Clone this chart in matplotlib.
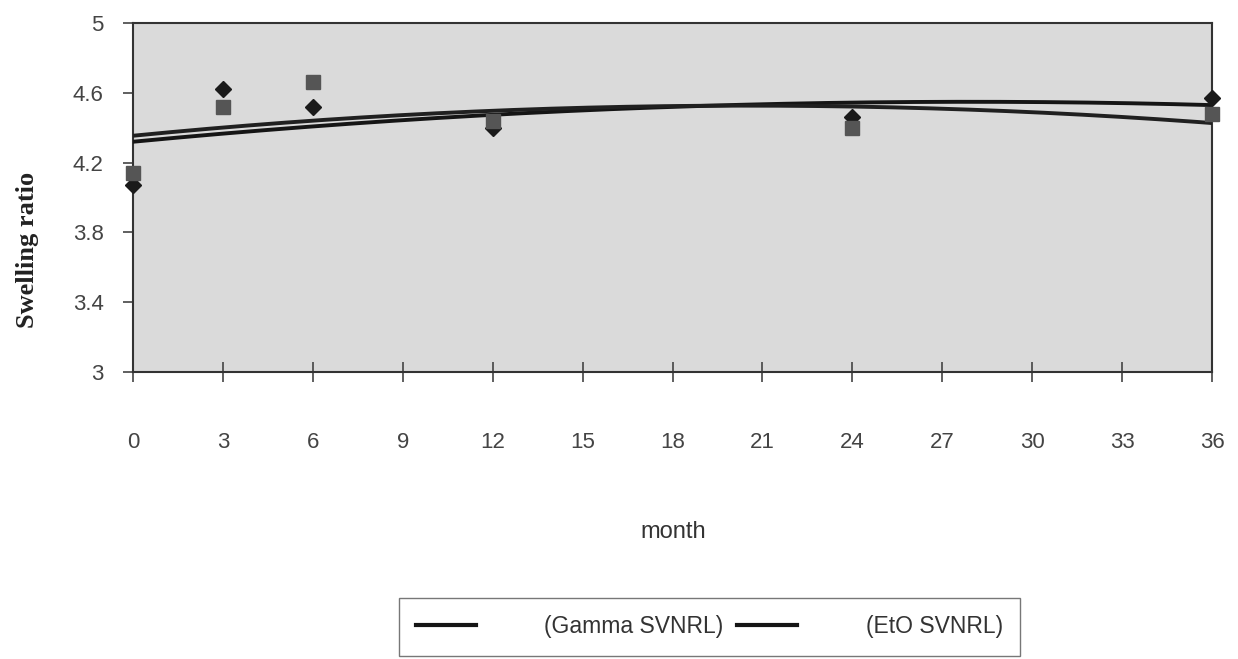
import numpy as np
import matplotlib
matplotlib.use("Agg")
import matplotlib.pyplot as plt
from matplotlib.lines import Line2D

# Data
months = [0, 3, 6, 12, 24, 36]
gamma_svnrl = [4.07, 4.62, 4.52, 4.40, 4.46, 4.57]   # diamonds
eto_svnrl = [4.14, 4.52, 4.66, 4.44, 4.40, 4.48]     # squares
x_ticks = [0, 3, 6, 9, 12, 15, 18, 21, 24, 27, 30, 33, 36]
y_ticks = [3, 3.4, 3.8, 4.2, 4.6, 5]
series_labels = ["(Gamma SVNRL)", "(EtO SVNRL)"]

fig = plt.figure(figsize=(12.38, 6.59), dpi=100)
ax = fig.add_axes([133/1238, 1-372/659, (1212-133)/1238, (372-23)/659])
ax.set_facecolor("#dadada")

# Polynomial (order 2) trendlines as in the spreadsheet chart
xs = np.linspace(0, 36, 200)
cg = np.polyfit(months, gamma_svnrl, 2)
ce = np.polyfit(months, eto_svnrl, 2)
ax.plot(xs, np.polyval(cg, xs), color="#151515", lw=2.8, zorder=3)
ax.plot(xs, np.polyval(ce, xs), color="#202020", lw=2.8, zorder=3)

ax.plot(months, gamma_svnrl, linestyle="none", marker="D", markersize=8,
        color="#1a1a1a", zorder=4, clip_on=False)
ax.plot(months, eto_svnrl, linestyle="none", marker="s", markersize=10,
        color="#555555", zorder=4, clip_on=False)

ax.set_xlim(0, 36)
ax.set_ylim(3, 5)
ax.set_xticks(x_ticks)
ax.set_yticks(y_ticks)
ax.set_yticklabels([f"{v:g}" for v in y_ticks])

for s in ax.spines.values():
    s.set_color("#333333")
    s.set_linewidth(1.5)

ax.tick_params(axis="x", direction="inout", length=15, width=1.2,
               color="#444444", pad=36, labelsize=16, labelcolor="#444444")
ax.tick_params(axis="y", direction="out", length=7, width=1.2,
               color="#444444", pad=14, labelsize=16, labelcolor="#444444")
for lab in ax.get_xticklabels() + ax.get_yticklabels():
    lab.set_family("Liberation Sans")

fig.text(673/1238, 1-532/659, "month", ha="center", va="center",
         fontsize=17, family="Liberation Sans", color="#333333")
fig.text(28/1238, 1-250/659, "Swelling ratio", ha="center", va="center",
         rotation=90, fontsize=19, family="Liberation Serif",
         fontweight="bold", color="#222222")

handles = [Line2D([0], [0], color="#151515", lw=3),
           Line2D([0], [0], color="#151515", lw=3)]
leg = fig.legend(handles, series_labels, ncol=2, loc="center",
                 bbox_to_anchor=(709.5/1238, 1-627/659),
                 prop={"family": "Liberation Sans", "size": 16.5},
                 handlelength=2.6, handletextpad=3.0, columnspacing=0.6,
                 borderpad=0.75, fancybox=False, framealpha=1,
                 edgecolor="#777777")
leg.get_frame().set_linewidth(1.0)
for t in leg.get_texts():
    t.set_color("#333333")

fig.savefig("out.png", dpi=100, facecolor="white")
